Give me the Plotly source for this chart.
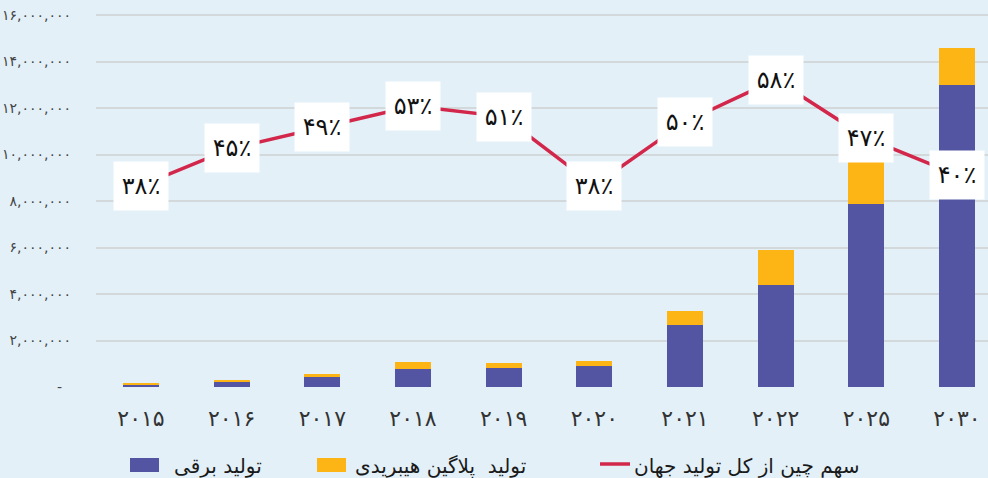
import plotly.graph_objects as go

# ---- data ----
years = ["۲۰۱۵", "۲۰۱۶", "۲۰۱۷", "۲۰۱۸", "۲۰۱۹", "۲۰۲۰", "۲۰۲۱", "۲۰۲۲", "۲۰۲۵", "۲۰۳۰"]
electric = [120000, 245000, 430000, 790000, 830000, 920000, 2650000, 4370000, 7890000, 12980000]
phev = [70000, 75000, 146000, 285000, 220000, 200000, 610000, 1510000, 1790000, 1580000]
share = [38, 45, 49, 53, 51, 38, 50, 58, 47, 40]
y_tickvals = [0, 2000000, 4000000, 6000000, 8000000, 10000000, 12000000, 14000000, 16000000]
y_ticktext = ["-\u00a0\u00a0", "۲,۰۰۰,۰۰۰", "۴,۰۰۰,۰۰۰", "۶,۰۰۰,۰۰۰", "۸,۰۰۰,۰۰۰",
              "۱۰,۰۰۰,۰۰۰", "۱۲,۰۰۰,۰۰۰", "۱۴,۰۰۰,۰۰۰", "۱۶,۰۰۰,۰۰۰"]
names = ["تولید برقی", "تولید\u00a0\u00a0پلاگین هیبریدی", "سهم چین از کل تولید جهان"]

FA = str.maketrans("0123456789", "۰۱۲۳۴۵۶۷۸۹")
share_labels = [str(v).translate(FA) + "٪" for v in share]

BLUE = "#5354A2"
YELLOW = "#FDB515"
RED = "#D2274A"
BG = "#E3F0F8"
FONT = "DejaVu Sans"

W, H = 988, 478
L, T, B = 96, 0, 91
PW = W - L
PH = H - T - B


def px(x):
    return (x - L) / PW


def py(y):
    return (PH + T - y) / PH


fig = go.Figure()
fig.add_trace(go.Bar(x=years, y=electric, name=names[0], marker=dict(color=BLUE, line=dict(width=0))))
fig.add_trace(go.Bar(x=years, y=phev, name=names[1], marker=dict(color=YELLOW, line=dict(width=0))))
fig.add_trace(go.Scatter(x=years, y=share, name=names[2], yaxis="y2", mode="lines",
                         line=dict(color=RED, width=3.5)))

annotations = []
for yr, v, lab in zip(years, share, share_labels):
    annotations.append(dict(x=yr, y=v, xref="x", yref="y2", text=lab, showarrow=False,
                            bgcolor="white", width=52, height=46, align="center", valign="middle",
                            font=dict(family=FONT, size=24, color="#111111")))

# custom legend
shapes = [
    dict(type="rect", xref="paper", yref="paper", x0=px(130), x1=px(159), y0=py(472), y1=py(458),
         fillcolor=BLUE, line=dict(width=0)),
    dict(type="rect", xref="paper", yref="paper", x0=px(317), x1=px(346), y0=py(472), y1=py(458),
         fillcolor=YELLOW, line=dict(width=0)),
    dict(type="line", xref="paper", yref="paper", x0=px(600), x1=px(630), y0=py(464), y1=py(464),
         line=dict(color=RED, width=3.5)),
]
for xpos, nm in zip([172, 353, 632], names):
    annotations.append(dict(x=px(xpos), y=py(466), xref="paper", yref="paper", text=nm,
                            showarrow=False, xanchor="left", yanchor="middle",
                            font=dict(family=FONT, size=20, color="#1a1a1a")))

fig.update_layout(
    width=W, height=H,
    margin=dict(l=L, r=0, t=T, b=B),
    paper_bgcolor=BG, plot_bgcolor=BG,
    barmode="stack", bargap=0.6,
    showlegend=False,
    font=dict(family=FONT),
    xaxis=dict(range=[-0.496, 9.342], showgrid=False, zeroline=False, showline=False,
               ticks="", tickfont=dict(family=FONT, size=22, color="#333333"),
               ticklabelstandoff=16),
    yaxis=dict(range=[0, PH / 46.5 * 2000000], tickvals=y_tickvals, ticktext=y_ticktext,
               showgrid=True, gridcolor="#D3D8DB", gridwidth=1.5, zeroline=False,
               showline=False, ticks="", automargin=False, ticklabelstandoff=24,
               tickfont=dict(family=FONT, size=14, color="#444444")),
    yaxis2=dict(range=[0, 73], overlaying="y", side="right", showgrid=False, zeroline=False,
                showticklabels=False, showline=False, ticks=""),
    annotations=annotations,
    shapes=shapes,
)

fig.write_html("out.html", config={"displayModeBar": False},
               post_script="document.body.style.margin='0';document.body.style.background='" + BG + "';")
